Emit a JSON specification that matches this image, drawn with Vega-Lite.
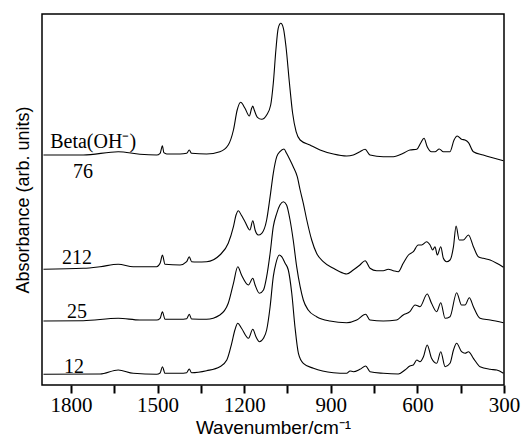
{
  "$schema": "https://vega.github.io/schema/vega-lite/v6.json",
  "width": 462,
  "height": 371,
  "autosize": "none",
  "padding": {"left": 42, "top": 14, "right": 25, "bottom": 56},
  "background": "white",
  "config": {"view": {"stroke": "black", "strokeWidth": 1.5}},
  "datasets": {
    "curves": [
      {"s":"beta","x":1895,"y":230},{"s":"beta","x":1757,"y":230},{"s":"beta","x":1636,"y":233.3},{"s":"beta","x":1561,"y":230.7},{"s":"beta","x":1503,"y":230},{"s":"beta","x":1491,"y":231.7},{"s":"beta","x":1483,"y":239.3},{"s":"beta","x":1478,"y":232.3},{"s":"beta","x":1468,"y":231},{"s":"beta","x":1422,"y":231},{"s":"beta","x":1399,"y":231.7},{"s":"beta","x":1390,"y":235},{"s":"beta","x":1382,"y":231.7},{"s":"beta","x":1330,"y":231},{"s":"beta","x":1284,"y":233.3},{"s":"beta","x":1255,"y":240},{"s":"beta","x":1237,"y":255},{"s":"beta","x":1224,"y":275},{"s":"beta","x":1212,"y":282.7},{"s":"beta","x":1197,"y":276.7},{"s":"beta","x":1182,"y":269},{"s":"beta","x":1174,"y":276.7},{"s":"beta","x":1170,"y":279},{"s":"beta","x":1165,"y":275},{"s":"beta","x":1154,"y":267.7},{"s":"beta","x":1139,"y":265.7},{"s":"beta","x":1122,"y":270},{"s":"beta","x":1108,"y":280},{"s":"beta","x":1099,"y":301.7},{"s":"beta","x":1090,"y":335},{"s":"beta","x":1082,"y":356.7},{"s":"beta","x":1073,"y":361.7},{"s":"beta","x":1064,"y":356.7},{"s":"beta","x":1055,"y":338.3},{"s":"beta","x":1043,"y":301.7},{"s":"beta","x":1032,"y":271.7},{"s":"beta","x":1020,"y":253.3},{"s":"beta","x":1006,"y":245},{"s":"beta","x":972,"y":240},{"s":"beta","x":937,"y":235},{"s":"beta","x":891,"y":231},{"s":"beta","x":845,"y":229},{"s":"beta","x":822,"y":230},{"s":"beta","x":799,"y":233.3},{"s":"beta","x":781,"y":235.7},{"s":"beta","x":764,"y":230},{"s":"beta","x":718,"y":228.3},{"s":"beta","x":683,"y":228.3},{"s":"beta","x":649,"y":231.7},{"s":"beta","x":626,"y":235},{"s":"beta","x":602,"y":235.7},{"s":"beta","x":589,"y":241.7},{"s":"beta","x":577,"y":246.7},{"s":"beta","x":566,"y":238.3},{"s":"beta","x":551,"y":233.3},{"s":"beta","x":539,"y":233.3},{"s":"beta","x":524,"y":236},{"s":"beta","x":510,"y":233.3},{"s":"beta","x":487,"y":233.3},{"s":"beta","x":473,"y":245},{"s":"beta","x":462,"y":249},{"s":"beta","x":447,"y":245.7},{"s":"beta","x":435,"y":245},{"s":"beta","x":423,"y":242.3},{"s":"beta","x":406,"y":233.3},{"s":"beta","x":372,"y":230},{"s":"beta","x":302,"y":224.3},

      {"s":"212","x":1895,"y":115.7},{"s":"212","x":1757,"y":116.7},{"s":"212","x":1699,"y":118.3},{"s":"212","x":1636,"y":120.7},{"s":"212","x":1584,"y":118.3},{"s":"212","x":1503,"y":118.3},{"s":"212","x":1491,"y":121.7},{"s":"212","x":1483,"y":130},{"s":"212","x":1474,"y":120.7},{"s":"212","x":1422,"y":120},{"s":"212","x":1399,"y":123.3},{"s":"212","x":1390,"y":128.3},{"s":"212","x":1382,"y":123.3},{"s":"212","x":1364,"y":123},{"s":"212","x":1330,"y":123.3},{"s":"212","x":1284,"y":130},{"s":"212","x":1255,"y":141.7},{"s":"212","x":1237,"y":158.3},{"s":"212","x":1228,"y":170},{"s":"212","x":1220,"y":174.3},{"s":"212","x":1210,"y":170},{"s":"212","x":1197,"y":163.3},{"s":"212","x":1180,"y":155},{"s":"212","x":1170,"y":164.3},{"s":"212","x":1162,"y":155},{"s":"212","x":1151,"y":150},{"s":"212","x":1139,"y":151.7},{"s":"212","x":1122,"y":165},{"s":"212","x":1110,"y":188.3},{"s":"212","x":1099,"y":211.7},{"s":"212","x":1087,"y":228.3},{"s":"212","x":1076,"y":233.3},{"s":"212","x":1062,"y":236},{"s":"212","x":1053,"y":231.7},{"s":"212","x":1041,"y":225},{"s":"212","x":1030,"y":218.3},{"s":"212","x":1016,"y":208.3},{"s":"212","x":1006,"y":195},{"s":"212","x":995,"y":181.7},{"s":"212","x":983,"y":165},{"s":"212","x":966,"y":145},{"s":"212","x":949,"y":131.7},{"s":"212","x":926,"y":123.3},{"s":"212","x":891,"y":116.7},{"s":"212","x":856,"y":111.7},{"s":"212","x":845,"y":111},{"s":"212","x":822,"y":115},{"s":"212","x":799,"y":120},{"s":"212","x":781,"y":124.3},{"s":"212","x":764,"y":116.7},{"s":"212","x":741,"y":114.3},{"s":"212","x":718,"y":114.3},{"s":"212","x":701,"y":115.7},{"s":"212","x":683,"y":114.3},{"s":"212","x":666,"y":113.3},{"s":"212","x":649,"y":121.7},{"s":"212","x":631,"y":130},{"s":"212","x":614,"y":133.3},{"s":"212","x":597,"y":140},{"s":"212","x":585,"y":140},{"s":"212","x":568,"y":143.3},{"s":"212","x":556,"y":140},{"s":"212","x":547,"y":135},{"s":"212","x":539,"y":138.3},{"s":"212","x":531,"y":130},{"s":"212","x":519,"y":138.3},{"s":"212","x":510,"y":126.7},{"s":"212","x":499,"y":123.3},{"s":"212","x":487,"y":125},{"s":"212","x":475,"y":138.3},{"s":"212","x":466,"y":159},{"s":"212","x":455,"y":145},{"s":"212","x":441,"y":145},{"s":"212","x":423,"y":150},{"s":"212","x":406,"y":138.3},{"s":"212","x":389,"y":128.3},{"s":"212","x":372,"y":126.7},{"s":"212","x":348,"y":125},{"s":"212","x":325,"y":121.7},{"s":"212","x":302,"y":117.7},

      {"s":"25","x":1895,"y":64},{"s":"25","x":1757,"y":64.3},{"s":"25","x":1636,"y":66.7},{"s":"25","x":1561,"y":65},{"s":"25","x":1503,"y":65},{"s":"25","x":1491,"y":66.7},{"s":"25","x":1483,"y":73.3},{"s":"25","x":1474,"y":65.7},{"s":"25","x":1422,"y":65.7},{"s":"25","x":1399,"y":66.3},{"s":"25","x":1390,"y":70.7},{"s":"25","x":1382,"y":66},{"s":"25","x":1330,"y":65.7},{"s":"25","x":1284,"y":70},{"s":"25","x":1255,"y":81.7},{"s":"25","x":1237,"y":101.7},{"s":"25","x":1222,"y":118.3},{"s":"25","x":1209,"y":110},{"s":"25","x":1185,"y":100},{"s":"25","x":1170,"y":106.7},{"s":"25","x":1162,"y":100},{"s":"25","x":1147,"y":91.7},{"s":"25","x":1133,"y":95},{"s":"25","x":1122,"y":108.3},{"s":"25","x":1110,"y":131.7},{"s":"25","x":1099,"y":158.3},{"s":"25","x":1087,"y":171.7},{"s":"25","x":1076,"y":180},{"s":"25","x":1064,"y":183.3},{"s":"25","x":1053,"y":180},{"s":"25","x":1041,"y":165},{"s":"25","x":1030,"y":145},{"s":"25","x":1018,"y":118.3},{"s":"25","x":1006,"y":98.3},{"s":"25","x":995,"y":85},{"s":"25","x":978,"y":75},{"s":"25","x":949,"y":68.3},{"s":"25","x":903,"y":64},{"s":"25","x":845,"y":62.3},{"s":"25","x":810,"y":65},{"s":"25","x":779,"y":70.7},{"s":"25","x":764,"y":65},{"s":"25","x":718,"y":64},{"s":"25","x":672,"y":65},{"s":"25","x":649,"y":70},{"s":"25","x":626,"y":73.3},{"s":"25","x":608,"y":80},{"s":"25","x":591,"y":78.3},{"s":"25","x":566,"y":91},{"s":"25","x":551,"y":81.7},{"s":"25","x":533,"y":73.3},{"s":"25","x":519,"y":82.3},{"s":"25","x":504,"y":66.7},{"s":"25","x":487,"y":68.3},{"s":"25","x":464,"y":92.3},{"s":"25","x":447,"y":80},{"s":"25","x":435,"y":80},{"s":"25","x":420,"y":87.3},{"s":"25","x":406,"y":78.3},{"s":"25","x":383,"y":66.7},{"s":"25","x":348,"y":65},{"s":"25","x":302,"y":62.3},

      {"s":"12","x":1895,"y":10.7},{"s":"12","x":1699,"y":11},{"s":"12","x":1636,"y":15},{"s":"12","x":1584,"y":11.7},{"s":"12","x":1503,"y":10.7},{"s":"12","x":1491,"y":12},{"s":"12","x":1483,"y":18.3},{"s":"12","x":1474,"y":11.7},{"s":"12","x":1422,"y":11.7},{"s":"12","x":1399,"y":12.3},{"s":"12","x":1390,"y":16},{"s":"12","x":1382,"y":12.3},{"s":"12","x":1330,"y":14.3},{"s":"12","x":1284,"y":18.3},{"s":"12","x":1260,"y":25},{"s":"12","x":1243,"y":41.7},{"s":"12","x":1232,"y":55},{"s":"12","x":1222,"y":61.7},{"s":"12","x":1209,"y":56.7},{"s":"12","x":1185,"y":46.7},{"s":"12","x":1170,"y":55.7},{"s":"12","x":1159,"y":48.3},{"s":"12","x":1147,"y":43.3},{"s":"12","x":1133,"y":46.7},{"s":"12","x":1122,"y":55},{"s":"12","x":1110,"y":78.3},{"s":"12","x":1099,"y":108.3},{"s":"12","x":1090,"y":121.7},{"s":"12","x":1078,"y":130},{"s":"12","x":1070,"y":128.3},{"s":"12","x":1058,"y":121.7},{"s":"12","x":1047,"y":115},{"s":"12","x":1035,"y":91.7},{"s":"12","x":1024,"y":58.3},{"s":"12","x":1012,"y":31.7},{"s":"12","x":995,"y":21.7},{"s":"12","x":960,"y":16.7},{"s":"12","x":891,"y":12.3},{"s":"12","x":845,"y":11.7},{"s":"12","x":833,"y":14},{"s":"12","x":822,"y":13.3},{"s":"12","x":799,"y":15.7},{"s":"12","x":779,"y":19},{"s":"12","x":764,"y":13.3},{"s":"12","x":718,"y":11.7},{"s":"12","x":666,"y":11},{"s":"12","x":643,"y":15},{"s":"12","x":626,"y":19},{"s":"12","x":614,"y":20},{"s":"12","x":602,"y":25},{"s":"12","x":591,"y":23.3},{"s":"12","x":579,"y":28.3},{"s":"12","x":566,"y":40},{"s":"12","x":551,"y":26.7},{"s":"12","x":533,"y":21.7},{"s":"12","x":519,"y":33.3},{"s":"12","x":504,"y":18.3},{"s":"12","x":487,"y":21.7},{"s":"12","x":475,"y":35},{"s":"12","x":464,"y":41.7},{"s":"12","x":447,"y":33.3},{"s":"12","x":435,"y":31.7},{"s":"12","x":423,"y":33.3},{"s":"12","x":406,"y":26.7},{"s":"12","x":383,"y":18.3},{"s":"12","x":348,"y":15.7},{"s":"12","x":325,"y":15},{"s":"12","x":302,"y":11.7}
    ],
    "labels": [
      {"t":"Beta(OH⁻)","x":1723,"y":243.3},
      {"t":"76","x":1758,"y":213},
      {"t":"212","x":1779,"y":127},
      {"t":"25","x":1779,"y":73},
      {"t":"12","x":1789,"y":18.3}
    ]
  },
  "layer": [
    {
      "data": {"name": "curves"},
      "mark": {"type": "line", "color": "black", "strokeWidth": 1.1, "interpolate": "monotone"},
      "encoding": {
        "x": {"field": "x", "type": "quantitative",
              "scale": {"domain": [300, 1900], "reverse": true, "nice": false, "zero": false},
              "axis": {"values": [1800, 1650, 1500, 1350, 1200, 1050, 900, 750, 600, 450, 300], "format": "d",
                       "labelExpr": "datum.value % 300 === 0 ? datum.label : ''",
                       "title": "Wavenumber/cm⁻¹",
                       "domain": false, "grid": false, "tickColor": "black", "tickSize": 8, "tickWidth": 2,
                       "labelFont": "Liberation Serif", "labelFontSize": 21, "labelColor": "black", "labelPadding": 1,
                       "labelFlush": false, "labelOverlap": false,
                       "titleFont": "Liberation Sans", "titleFontSize": 19, "titleFontWeight": "normal", "titleColor": "black", "titlePadding": 3}},
        "y": {"field": "y", "type": "quantitative",
              "scale": {"domain": [0, 371], "nice": false, "zero": false},
              "axis": {"title": "Absorbance (arb. units)", "labels": false, "ticks": false, "domain": false, "grid": false,
                       "titleFont": "Liberation Sans", "titleFontSize": 18, "titleFontWeight": "normal", "titleColor": "black", "titlePadding": 10}},
        "detail": {"field": "s", "type": "nominal"}
      }
    },
    {
      "data": {"name": "labels"},
      "mark": {"type": "text", "font": "Liberation Serif", "fontSize": 20, "color": "black", "align": "center", "baseline": "middle"},
      "encoding": {
        "x": {"field": "x", "type": "quantitative"},
        "y": {"field": "y", "type": "quantitative"},
        "text": {"field": "t", "type": "nominal"}
      }
    }
  ]
}
